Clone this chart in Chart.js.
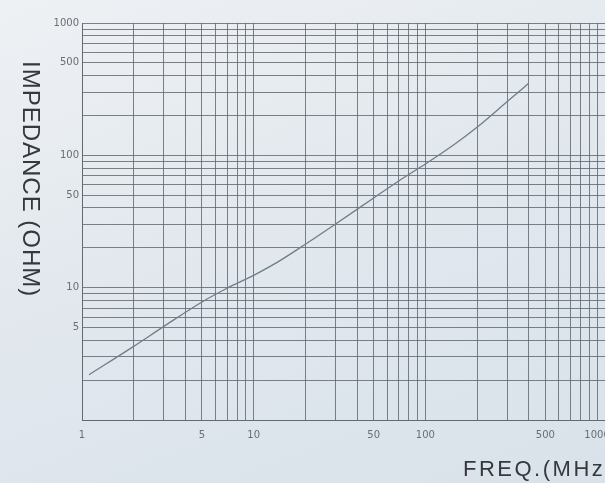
<!DOCTYPE html>
<html>
<head>
<meta charset="utf-8">
<title>Impedance vs Frequency</title>
<script src="https://cdn.jsdelivr.net/npm/chart.js@4.4.1/dist/chart.umd.min.js"></script>
<style>
  html, body { margin: 0; padding: 0; }
  #wrap {
    position: relative;
    width: 605px;
    height: 483px;
    overflow: hidden;
    background: linear-gradient(160deg, #eef1f4 0%, #e2e8ee 45%, #d9e2ea 100%);
    font-family: "Liberation Sans", Arial, sans-serif;
  }
  #myChart { position: absolute; left: 0; top: 0; }
  .y-title {
    position: absolute;
    left: 19px;
    top: 61px;
    writing-mode: vertical-rl;
    font-size: 24px;
    line-height: 24px;
    letter-spacing: 1px;
    color: #36393c;
    white-space: nowrap;
  }
  .x-title {
    position: absolute;
    left: 463px;
    top: 456px;
    font-size: 22px;
    letter-spacing: 2.5px;
    color: #36393c;
    white-space: nowrap;
  }
</style>
</head>
<body>
<div id="wrap">
  <canvas id="myChart" width="605" height="483"></canvas>
  <div class="y-title">IMPEDANCE (OHM)</div>
  <div class="x-title">FREQ.(MHz)</div>
</div>
<script>
// impedance curve, MHz -> ohm
const freq = [1.1, 2, 3, 5, 7, 10, 14, 20, 30, 50, 70, 100, 150, 200, 300, 400]
const impedance = [2.2, 3.6, 5.1, 7.8, 9.9, 12.4, 15.8, 21.3, 30.3, 47.6, 64, 86, 123, 163, 255, 350]

// labelled ticks on each axis
const freqLabels = [1, 5, 10, 50, 100, 500, 1000]
const impLabels = [5, 10, 50, 100, 500, 1000]

// log paper: a line at every 1..9 of each decade
function decadeLines(decades) {
    const lines = []
    for (let i = 0; i < decades.length; i++) {
        for (let k = 1; k <= 9; k++) lines.push(k * decades[i])
    }
    lines.push(decades[decades.length - 1] * 10)
    return lines
}
const freqGrid = decadeLines([1, 10, 100])
const impGrid = decadeLines([1, 10, 100])

const gridColor = 'rgba(92, 100, 108, 0.8)'
const tickFont = { family: '"DejaVu Sans", sans-serif', size: 10 }
const tickColor = '#6a6e72'

const ctx = document.getElementById('myChart').getContext('2d')
const myChart = new Chart(ctx, {
    type: 'line',
    data: {
        datasets: [{
            data: freq.map((f, i) => ({ x: f, y: impedance[i] })),
            borderColor: '#6f7e88',
            borderWidth: 1.3,
            pointRadius: 0,
            fill: false,
            cubicInterpolationMode: 'monotone'
        }]
    },
    options: {
        responsive: false,
        animation: false,
        layout: { padding: { top: 23, right: 0, bottom: 0, left: 0 } },
        plugins: {
            legend: { display: false },
            tooltip: { enabled: false }
        },
        scales: {
            x: {
                type: 'logarithmic',
                min: 1,
                max: 1113,
                afterBuildTicks: (scale) => {
                    scale.ticks = freqGrid.map(v => ({ value: v }))
                },
                afterFit: (scale) => {
                    scale.height = 63
                    scale.paddingLeft = 0
                    scale.paddingRight = 0
                },
                grid: { color: gridColor, lineWidth: 1, drawTicks: false },
                border: { color: gridColor },
                ticks: {
                    autoSkip: false,
                    maxRotation: 0,
                    padding: 9,
                    font: tickFont,
                    color: tickColor,
                    callback: (value) => freqLabels.includes(value) ? String(value) : ''
                }
            },
            y: {
                type: 'logarithmic',
                min: 1,
                max: 1000,
                afterBuildTicks: (scale) => {
                    scale.ticks = impGrid.map(v => ({ value: v }))
                },
                afterFit: (scale) => {
                    scale.width = 82
                    scale.paddingTop = 0
                    scale.paddingBottom = 0
                },
                grid: { color: gridColor, lineWidth: 1, drawTicks: false },
                border: { color: gridColor },
                ticks: {
                    autoSkip: false,
                    padding: 3,
                    font: tickFont,
                    color: tickColor,
                    callback: (value) => impLabels.includes(value) ? String(value) : ''
                }
            }
        }
    }
})
</script>
</body>
</html>
